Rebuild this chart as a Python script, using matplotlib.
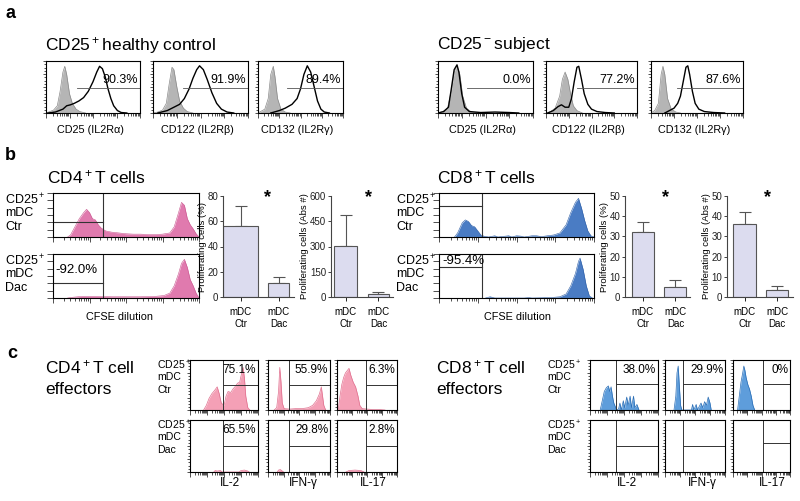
import numpy as np
import matplotlib.pyplot as plt

plt.rcParams['font.family'] = ['Liberation Sans', 'DejaVu Sans']
plt.rcParams['mathtext.fontset'] = 'custom'
plt.rcParams['mathtext.rm'] = 'Liberation Sans'
plt.rcParams['mathtext.default'] = 'regular'

# ---- panel a: IL-2 receptor chains (x, y) ----
receptor_labels = ['CD25 (IL2Rα)', 'CD122 (IL2Rβ)', 'CD132 (IL2Rγ)']
hc_pct = ['90.3%', '91.9%', '89.4%']
subj_pct = ['0.0%', '77.2%', '87.6%']

hc_cd25_iso = [(0, 0), (0.04, 0.03), (0.08, 0.06), (0.12, 0.15), (0.15, 0.45), (0.18, 0.85), (0.2, 0.97),
               (0.22, 0.8), (0.25, 0.4), (0.28, 0.2), (0.32, 0.08), (0.36, 0.03), (0.42, 0)]
hc_cd25 = [(0.02, 0), (0.1, 0.02), (0.18, 0.08), (0.22, 0.15), (0.26, 0.17), (0.3, 0.2), (0.35, 0.25),
           (0.4, 0.32), (0.45, 0.45), (0.5, 0.65), (0.54, 0.85), (0.57, 0.97), (0.6, 0.92), (0.63, 0.75),
           (0.66, 0.5), (0.69, 0.3), (0.72, 0.15), (0.76, 0.05), (0.8, 0.01), (0.86, 0)]
hc_cd122_iso = [(0, 0), (0.05, 0.02), (0.1, 0.06), (0.14, 0.2), (0.17, 0.6), (0.2, 0.95), (0.22, 0.9),
                (0.25, 0.55), (0.28, 0.25), (0.32, 0.1), (0.36, 0.03), (0.42, 0)]
hc_cd122 = [(0.05, 0), (0.15, 0.05), (0.22, 0.12), (0.28, 0.18), (0.33, 0.3), (0.38, 0.5), (0.42, 0.72),
            (0.46, 0.9), (0.49, 0.98), (0.53, 0.9), (0.57, 0.7), (0.62, 0.42), (0.67, 0.2), (0.72, 0.08),
            (0.78, 0.02), (0.85, 0)]
hc_cd132_iso = [(0, 0), (0.04, 0.04), (0.08, 0.08), (0.12, 0.3), (0.15, 0.8), (0.18, 0.97), (0.2, 0.75),
                (0.23, 0.3), (0.27, 0.08), (0.32, 0.02), (0.38, 0)]
hc_cd132 = [(0.15, 0), (0.25, 0.05), (0.32, 0.1), (0.4, 0.18), (0.46, 0.3), (0.5, 0.5), (0.54, 0.8),
            (0.58, 0.98), (0.62, 0.85), (0.66, 0.55), (0.7, 0.25), (0.74, 0.08), (0.78, 0.02), (0.84, 0)]

subj_cd25_iso = [(0, 0), (0.05, 0.03), (0.1, 0.1), (0.14, 0.45), (0.17, 0.85), (0.2, 0.98), (0.23, 0.8),
                 (0.26, 0.35), (0.3, 0.1), (0.35, 0.02), (0.42, 0)]
subj_cd25 = [(0, 0), (0.06, 0.03), (0.11, 0.12), (0.14, 0.5), (0.17, 0.9), (0.2, 1.0), (0.22, 0.85),
             (0.25, 0.4), (0.28, 0.12), (0.33, 0.03), (0.45, 0.01), (0.6, 0.02), (0.75, 0.01), (0.85, 0)]
subj_cd122_iso = [(0, 0), (0.05, 0.03), (0.1, 0.1), (0.15, 0.35), (0.18, 0.7), (0.21, 0.85), (0.24, 0.7),
                  (0.27, 0.4), (0.3, 0.15), (0.34, 0.05), (0.4, 0)]
subj_cd122 = [(0.02, 0), (0.08, 0.05), (0.13, 0.13), (0.17, 0.17), (0.21, 0.12), (0.25, 0.12), (0.28, 0.3),
              (0.31, 0.65), (0.34, 0.95), (0.36, 0.97), (0.39, 0.7), (0.42, 0.4), (0.46, 0.18), (0.5, 0.08),
              (0.56, 0.03), (0.65, 0.01), (0.75, 0)]
subj_cd132_iso = [(0, 0), (0.04, 0.05), (0.08, 0.2), (0.11, 0.8), (0.13, 0.97), (0.15, 0.8), (0.18, 0.3),
                  (0.22, 0.08), (0.27, 0.02), (0.32, 0)]
subj_cd132 = [(0.15, 0), (0.2, 0.05), (0.25, 0.1), (0.29, 0.2), (0.32, 0.35), (0.35, 0.65), (0.38, 0.95),
              (0.4, 0.98), (0.42, 0.8), (0.45, 0.45), (0.48, 0.2), (0.52, 0.08), (0.58, 0.03), (0.68, 0.01),
              (0.8, 0)]

# ---- panel b: CFSE dilution ----
cd4_ctr_cfse = [(0.1, 0), (0.12, 0.05), (0.15, 0.25), (0.18, 0.45), (0.21, 0.6), (0.23, 0.68), (0.25, 0.6),
                (0.27, 0.45), (0.29, 0.42), (0.31, 0.3), (0.33, 0.22), (0.36, 0.15), (0.4, 0.12), (0.45, 0.1),
                (0.5, 0.08), (0.55, 0.07), (0.6, 0.07), (0.65, 0.06), (0.7, 0.06), (0.75, 0.07), (0.8, 0.1),
                (0.83, 0.25), (0.86, 0.6), (0.88, 0.85), (0.9, 0.78), (0.92, 0.45), (0.94, 0.3), (0.96, 0.2),
                (0.98, 0.08), (1.0, 0)]
cd4_dac_cfse = [(0.1, 0), (0.14, 0.02), (0.2, 0.04), (0.3, 0.04), (0.4, 0.03), (0.5, 0.03), (0.6, 0.03),
                (0.7, 0.04), (0.76, 0.06), (0.8, 0.12), (0.83, 0.3), (0.86, 0.6), (0.88, 0.85), (0.9, 0.95),
                (0.92, 0.75), (0.94, 0.45), (0.96, 0.3), (0.98, 0.12), (1.0, 0)]
cd8_ctr_cfse = [(0.1, 0), (0.12, 0.1), (0.15, 0.35), (0.17, 0.42), (0.19, 0.38), (0.21, 0.28), (0.23, 0.25),
                (0.25, 0.15), (0.27, 0.05), (0.29, 0.02), (0.32, 0), (0.36, 0.03), (0.38, 0), (0.45, 0.03),
                (0.47, 0), (0.5, 0.03), (0.53, 0.02), (0.55, 0), (0.6, 0.03), (0.63, 0.03), (0.66, 0.01),
                (0.7, 0.03), (0.74, 0.05), (0.78, 0.1), (0.82, 0.3), (0.85, 0.6), (0.88, 0.85), (0.9, 0.95),
                (0.92, 0.7), (0.94, 0.4), (0.96, 0.15), (0.98, 0.03), (1.0, 0)]
cd8_dac_cfse = [(0.3, 0), (0.33, 0.03), (0.36, 0), (0.55, 0), (0.58, 0.01), (0.6, 0), (0.72, 0.01),
                (0.78, 0.03), (0.82, 0.1), (0.85, 0.3), (0.88, 0.6), (0.9, 0.9), (0.91, 0.98), (0.93, 0.7),
                (0.95, 0.3), (0.97, 0.05), (0.99, 0)]

bar_groups = ['mDC\nCtr', 'mDC\nDac']
cd4_pct_mean, cd4_pct_err = [56, 11], [16, 4.5]
cd4_abs_mean, cd4_abs_err = [305, 18], [185, 12]
cd8_pct_mean, cd8_pct_err = [32.3, 5.0], [4.7, 3.2]
cd8_abs_mean, cd8_abs_err = [36.2, 3.3], [5.8, 1.9]

# ---- panel c: cytokines ----
cytokines = ['IL-2', 'IFN-γ', 'IL-17']
cd4_ctr_pct = ['75.1%', '55.9%', '6.3%']
cd4_dac_pct = ['65.5%', '29.8%', '2.8%']
cd8_ctr_pct = ['38.0%', '29.9%', '0%']
cd8_dac_pct = ['', '', '']

cd4_ctr_cyt = [
    [(0.2, 0), (0.24, 0.1), (0.28, 0.25), (0.32, 0.35), (0.36, 0.42), (0.4, 0.5), (0.43, 0.35), (0.46, 0.15),
     (0.5, 0.1), (0.53, 0.3), (0.56, 0.4), (0.6, 0.38), (0.63, 0.45), (0.66, 0.5), (0.7, 0.58), (0.73, 0.6),
     (0.76, 0.8), (0.78, 0.92), (0.8, 0.7), (0.82, 0.3), (0.85, 0.05), (0.88, 0)],
    [(0.1, 0), (0.14, 0.05), (0.17, 0.4), (0.19, 0.92), (0.21, 0.6), (0.23, 0.15), (0.26, 0.03), (0.35, 0.02),
     (0.45, 0.03), (0.55, 0.03), (0.65, 0.05), (0.72, 0.1), (0.78, 0.2), (0.83, 0.35), (0.86, 0.5),
     (0.88, 0.3), (0.9, 0.1), (0.93, 0)],
    [(0.02, 0), (0.05, 0.3), (0.08, 0.55), (0.11, 0.7), (0.14, 0.8), (0.17, 0.85), (0.2, 0.9), (0.23, 0.75),
     (0.27, 0.6), (0.31, 0.5), (0.35, 0.3), (0.38, 0.1), (0.42, 0.03), (0.5, 0.02), (0.6, 0.01), (0.7, 0.01),
     (0.8, 0)],
]
cd4_dac_cyt = [
    [(0.35, 0), (0.37, 0.03), (0.4, 0.02), (0.45, 0.03), (0.47, 0), (0.72, 0), (0.75, 0.03), (0.8, 0.04),
     (0.85, 0.02), (0.87, 0)],
    [(0.15, 0), (0.17, 0.04), (0.2, 0.05), (0.23, 0.02), (0.25, 0)],
    [(0.15, 0), (0.2, 0.03), (0.3, 0.04), (0.4, 0.03), (0.45, 0)],
]
cd8_ctr_cyt = [
    [(0.15, 0), (0.18, 0.2), (0.21, 0.4), (0.24, 0.48), (0.27, 0.52), (0.29, 0.4), (0.31, 0.5), (0.33, 0.3),
     (0.35, 0.15), (0.37, 0.08), (0.39, 0), (0.42, 0.02), (0.44, 0.15), (0.46, 0), (0.49, 0.2), (0.51, 0.05),
     (0.54, 0.28), (0.56, 0.1), (0.59, 0.3), (0.61, 0.05), (0.64, 0.3), (0.66, 0.05), (0.69, 0.12),
     (0.72, 0)],
    [(0.15, 0), (0.18, 0.3), (0.2, 0.8), (0.22, 0.95), (0.24, 0.5), (0.26, 0.1), (0.28, 0), (0.44, 0),
     (0.46, 0.12), (0.48, 0), (0.52, 0.12), (0.54, 0), (0.58, 0.1), (0.6, 0.15), (0.63, 0.05), (0.66, 0.18),
     (0.69, 0.1), (0.72, 0.28), (0.75, 0.15), (0.77, 0)],
    [(0.08, 0), (0.11, 0.3), (0.14, 0.6), (0.17, 0.8), (0.19, 0.95), (0.21, 0.85), (0.23, 0.7), (0.26, 0.55),
     (0.29, 0.45), (0.32, 0.3), (0.35, 0.1), (0.38, 0)],
]
cd8_dac_cyt = [[], [], []]

W, H = 800, 501
fig = plt.figure(figsize=(8, 5.01), dpi=100)


def px_axes(x0, y0, x1, y1):
    ax = fig.add_axes([x0 / W, 1 - y1 / H, (x1 - x0) / W, (y1 - y0) / H])
    ax.patch.set_alpha(0)
    return ax


def px_text(x, y, s, **kw):
    fig.text(x / W, 1 - y / H, s, **kw)


def stacked(x, ys, lines, size):
    for y, s in zip(ys, lines):
        px_text(x, y, s, fontsize=size, va='center', ha='left')


LOG_MAJOR = [d / 4 for d in range(5)]
LOG_MINOR = [(np.log10(m) + d) / 4 for d in range(4) for m in range(2, 10)]


def flow_style(ax, yn=5, yminor=True, ylen=2.5):
    ax.set_xlim(0, 1)
    ax.set_ylim(0, 1.08)
    ax.set_xticks(LOG_MAJOR)
    ax.set_xticks(LOG_MINOR, minor=True)
    ax.set_yticks(np.linspace(0, 1.08, yn))
    if yminor:
        ax.set_yticks(np.linspace(0, 1.08, 4 * (yn - 1) + 1), minor=True)
    ax.tick_params(which='both', direction='out', labelbottom=False, labelleft=False,
                   width=0.6, color='#333333')
    ax.tick_params(which='major', length=3.5)
    ax.tick_params(which='minor', length=1.8)
    ax.tick_params(axis='y', which='major', length=ylen)
    for s in ax.spines.values():
        s.set_linewidth(0.8)


def hist(ax, pts, fill, edge, lw=0.6):
    if not pts:
        return
    x, y = np.array(pts, float).T
    ax.fill_between(x, 0, y, color=fill, lw=0)
    ax.plot(x, y, color=edge, lw=lw)


# ================= panel a =================
px_text(5, 13, 'a', fontsize=13, fontweight='bold', va='center')
px_text(45, 45, 'CD25$^+$healthy control', fontsize=12.5, va='center')
px_text(437, 45, 'CD25$^-$subject', fontsize=12.5, va='center')

hc_boxes = [(46, 140), (153, 248), (258, 343)]
subj_boxes = [(438, 533), (546, 637), (651, 743)]
hc_sets = [(hc_cd25_iso, hc_cd25), (hc_cd122_iso, hc_cd122), (hc_cd132_iso, hc_cd132)]
subj_sets = [(subj_cd25_iso, subj_cd25), (subj_cd122_iso, subj_cd122), (subj_cd132_iso, subj_cd132)]
hc_gate = [0.33, 0.32, 0.34]
subj_gate = [0.3, 0.34, 0.28]

for boxes, sets, pcts, gates in [(hc_boxes, hc_sets, hc_pct, hc_gate),
                                 (subj_boxes, subj_sets, subj_pct, subj_gate)]:
    for (x0, x1), (iso, stain), pct, g, lab in zip(boxes, sets, pcts, gates, receptor_labels):
        ax = px_axes(x0, 61, x1, 113)
        flow_style(ax, yn=5, ylen=2)
        hist(ax, iso, '#b5b5b5', '#8a8a8a', lw=0.5)
        sx, sy = np.array(stain, float).T
        ax.plot(sx, sy, color='black', lw=1.0)
        ax.plot([g, 1], [0.52, 0.52], color='#555555', lw=0.6)
        ax.text(0.98, 0.63, pct, transform=ax.transAxes, ha='right', va='center', fontsize=9)
        px_text((x0 + x1) / 2 - 3, 130, lab, fontsize=7.8, ha='center', va='center')

# ================= panel b =================
px_text(5, 156, 'b', fontsize=13, fontweight='bold', va='center')
px_text(47, 177, 'CD4$^+$T cells', fontsize=12.5, va='center')
px_text(437, 177, 'CD8$^+$T cells', fontsize=12.5, va='center')

ctr_lines = ['CD25$^+$', 'mDC', 'Ctr']
dac_lines = ['CD25$^+$', 'mDC', 'Dac']


def cfse_pair(xl, x0, x1, gate_x, ctr, dac, fill, edge, gate_top, gate_bot, pct, pct_pos, lab_x):
    for (y0, y1), pts, lines, gy, show in [((193, 237), ctr, ctr_lines, gate_top, False),
                                           ((254, 298), dac, dac_lines, gate_bot, True)]:
        ax = px_axes(x0, y0, x1, y1)
        flow_style(ax, yn=7, yminor=False, ylen=4)
        hist(ax, pts, fill, edge, lw=0.4)
        ax.axvline(gate_x, color='#333333', lw=0.8)
        ax.plot([0, gate_x], [gy, gy], color='#333333', lw=0.8)
        if show:
            ax.text(pct_pos[0], pct_pos[1], pct, transform=ax.transAxes, ha=pct_pos[2],
                    va='center', fontsize=9.5)
        stacked(xl, [y0 + 7, y0 + 20, y0 + 34], lines, 9)
    px_text(lab_x, 317, 'CFSE dilution', fontsize=7.8, ha='center', va='center')


cfse_pair(5, 53, 199, 0.34, cd4_ctr_cfse, cd4_dac_cfse, '#e07aae', '#c9568f',
          0.37, 0.37, '-92.0%', (0.16, 0.64, 'center'), 120)
cfse_pair(396, 439, 594, 0.28, cd8_ctr_cfse, cd8_dac_cfse, '#4a7cc4', '#2f5fa6',
          0.76, 0.76, '-95.4%', (0.02, 0.83, 'left'), 518)


def bar_chart(left, right, means, errs, ymax, step, ylabel, widths, xlim):
    ax = px_axes(left, 196, right, 297)
    xpos = np.arange(len(means))
    ax.bar(xpos, means, width=widths, color='#dcdcef', edgecolor='#555555', lw=0.8, zorder=2)
    ax.errorbar(xpos, means, yerr=[np.zeros(len(errs)), errs], fmt='none', ecolor='#555555',
                elinewidth=0.8, capsize=4, capthick=0.8, zorder=1)
    ax.set_ylim(0, ymax)
    ax.set_xlim(*xlim)
    ax.set_yticks(np.arange(0, ymax + 1, step))
    ax.set_xticks(xpos)
    ax.set_xticklabels(bar_groups, fontsize=7, linespacing=1.25)
    ax.tick_params(axis='y', labelsize=7, length=2.5, width=0.6, pad=1, colors='#222222')
    ax.tick_params(axis='x', length=3, width=0.6, pad=4)
    for s in ['top', 'right']:
        ax.spines[s].set_visible(False)
    for s in ['left', 'bottom']:
        ax.spines[s].set_linewidth(0.8)
        ax.spines[s].set_color('#444444')
    ax.set_ylabel(ylabel, fontsize=6.8, labelpad=0.5)
    ax.text(0.7, ymax * 0.985, '*', ha='center', va='center', fontsize=13, fontweight='bold',
            clip_on=False)
    return ax


bar_chart(223, 294, cd4_pct_mean, cd4_pct_err, 80, 20, 'Proliferating cells (%)',
          [0.92, 0.55], (-0.46, 1.4))
bar_chart(331, 393, cd4_abs_mean, cd4_abs_err, 600, 150, 'Proliferating cells (Abs #)',
          [0.7, 0.64], (-0.44, 1.44))
bar_chart(625, 690, cd8_pct_mean, cd8_pct_err, 50, 10, 'Proliferating cells (%)',
          [0.68, 0.68], (-0.55, 1.45))
bar_chart(727, 793, cd8_abs_mean, cd8_abs_err, 50, 10, 'Proliferating cells (Abs #)',
          [0.69, 0.69], (-0.54, 1.49))

# ================= panel c =================
px_text(7, 353, 'c', fontsize=13, fontweight='bold', va='center')
px_text(45, 367, 'CD4$^+$T cell', fontsize=12.5, va='center')
px_text(45, 389, 'effectors', fontsize=12.5, va='center')
px_text(436, 367, 'CD8$^+$T cell', fontsize=12.5, va='center')
px_text(436, 389, 'effectors', fontsize=12.5, va='center')


def cyt_grid(lab_x, boxes, gates, hgates, ctr, dac, ctr_pct, dac_pct, fill, edge, lab_cx):
    for (y0, y1), sets, pcts, lines, hg in [((360, 410), ctr, ctr_pct, ctr_lines, hgates[0]),
                                            ((420, 472), dac, dac_pct, dac_lines, hgates[1])]:
        stacked(lab_x, [y0 + 5, y0 + 17, y0 + 30], lines, 7.6)
        for (x0, x1), g, h, pts, pct in zip(boxes, gates, hg, sets, pcts):
            ax = px_axes(x0, y0, x1, y1)
            flow_style(ax, yn=5, ylen=2)
            hist(ax, pts, fill, edge, lw=0.5)
            ax.axvline(g, color='#333333', lw=0.7)
            ax.plot([g, 1], [h, h], color='#333333', lw=0.7)
            ax.text(0.97, 0.8, pct, transform=ax.transAxes, ha='right', va='center', fontsize=8.5)
    for (x0, x1), cx, name in zip(boxes, lab_cx, cytokines):
        px_text(cx, 483, name, fontsize=8.5, ha='center', va='center')


cyt_grid(157, [(190, 258), (268, 330), (337, 397)], [0.49, 0.34, 0.48],
         [(0.54, 0.54, 0.54), (0.54, 0.54, 0.54)],
         cd4_ctr_cyt, cd4_dac_cyt, cd4_ctr_pct, cd4_dac_pct, '#f4a0b6', '#e0708f', [230, 303, 373])
cyt_grid(547, [(590, 658), (665, 725), (733, 790)], [0.38, 0.3, 0.53],
         [(0.56, 0.56, 0.56), (0.54, 0.54, 0.6)],
         cd8_ctr_cyt, cd8_dac_cyt, cd8_ctr_pct, cd8_dac_pct, '#5e9ddb', '#2a6db5', [627, 702, 772])

fig.savefig('out.png', dpi=100)
